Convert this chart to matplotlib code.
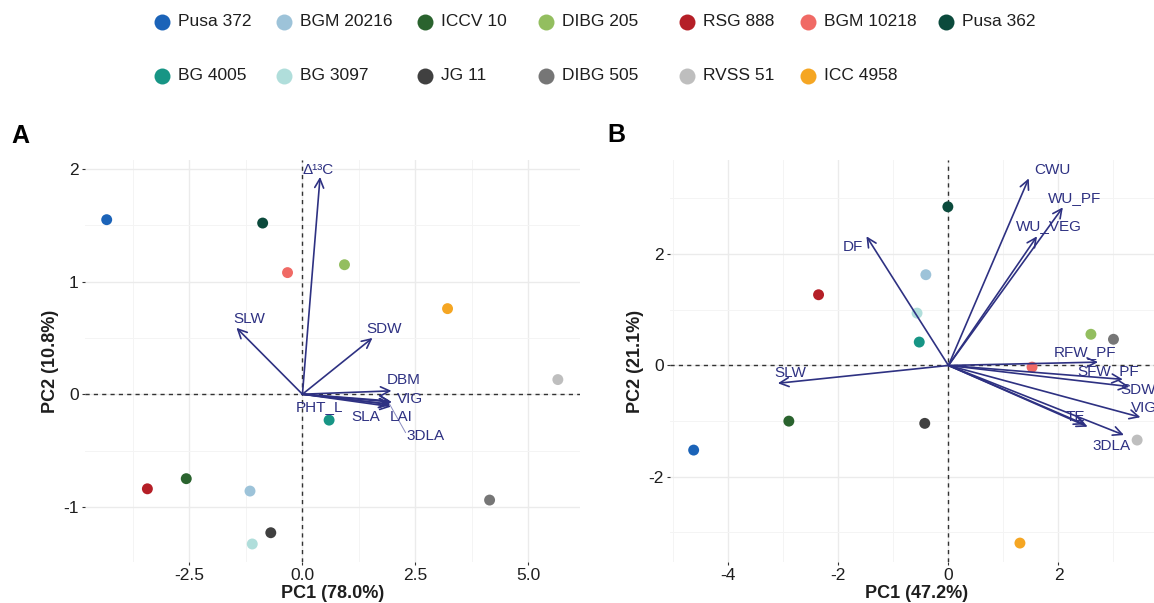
import matplotlib
matplotlib.use("Agg")
import matplotlib.pyplot as plt
from matplotlib.patches import FancyArrowPatch
from matplotlib.ticker import FixedLocator

plt.rcParams['font.family'] = ['Liberation Sans', 'DejaVu Sans']

# ---------------- data ----------------
genotypes = ["Pusa 372", "BGM 20216", "ICCV 10", "DIBG 205", "RSG 888", "BGM 10218", "Pusa 362",
             "BG 4005", "BG 3097", "JG 11", "DIBG 505", "RVSS 51", "ICC 4958"]
colors = ["#1B63B8", "#9DC3D9", "#2A632E", "#93BE5F", "#B51F27", "#F06A65", "#0B4A3C",
          "#179585", "#B0DEDB", "#404040", "#767676", "#BEBEBE", "#F5A623"]

# Panel A scores
a_pc1 = [-4.33, -1.16, -2.57, 0.93, -3.43, -0.33, -0.88, 0.59, -1.11, -0.70, 4.14, 5.65, 3.21]
a_pc2 = [1.55, -0.86, -0.75, 1.15, -0.84, 1.08, 1.52, -0.23, -1.33, -1.23, -0.94, 0.13, 0.76]
# Panel A loadings (arrows)
a_vars = ["Δ¹³C", "SLW", "SDW", "DBM", "VIG", "PHT_L", "SLA", "LAI", "3DLA"]
a_load1 = [0.39, -1.46, 1.55, 1.97, 1.98, 1.94, 1.95, 1.96, 1.93]
a_load2 = [1.93, 0.59, 0.50, 0.03, -0.07, -0.06, -0.09, -0.11, -0.09]
a_lab1 = [0.34, -1.18, 1.80, 2.23, 2.38, 0.38, 1.40, 2.19, 2.73]
a_lab2 = [1.99, 0.67, 0.58, 0.13, -0.04, -0.11, -0.20, -0.20, -0.37]

# Panel B scores
b_pc1 = [-4.63, -0.41, -2.90, 2.59, -2.36, 1.52, -0.01, -0.53, -0.57, -0.43, 3.00, 3.43, 1.30]
b_pc2 = [-1.52, 1.63, -1.00, 0.56, 1.27, -0.03, 2.85, 0.42, 0.94, -1.04, 0.47, -1.34, -3.19]
# Panel B loadings (arrows)
b_vars = ["CWU", "WU_PF", "WU_VEG", "DF", "SLW", "RFW_PF", "SFW_PF", "SDW", "VIG", "TE", "", "3DLA"]
b_load1 = [1.46, 2.08, 1.61, -1.49, -3.10, 2.72, 3.17, 3.29, 3.49, 2.53, 2.48, 3.19]
b_load2 = [3.36, 2.84, 2.32, 2.32, -0.32, 0.06, -0.25, -0.38, -0.93, -1.10, -1.06, -1.25]
b_lab1 = [1.89, 2.30, 1.82, -1.73, -2.88, 2.48, 2.90, 3.45, 3.55, 2.30, 2.30, 2.96]
b_lab2 = [3.51, 3.01, 2.50, 2.12, -0.14, 0.24, -0.10, -0.44, -0.77, -0.92, -0.92, -1.45]

# ---------------- figure ----------------
W, H = 1154, 603
fig = plt.figure(figsize=(W / 100, H / 100), dpi=100)

ARROW_C = "#2E3182"
TXT = "#1E1E1E"


def px_rect(l, r, t, b):
    return [l / W, 1 - b / H, (r - l) / W, (b - t) / H]


def style_axes(ax, xlim, ylim, xmaj, xmin, ymaj, ymin, xfmt):
    ax.set_xlim(*xlim)
    ax.set_ylim(*ylim)
    for s in ax.spines.values():
        s.set_visible(False)
    ax.xaxis.set_major_locator(FixedLocator(xmaj))
    ax.xaxis.set_minor_locator(FixedLocator(xmin))
    ax.yaxis.set_major_locator(FixedLocator(ymaj))
    ax.yaxis.set_minor_locator(FixedLocator(ymin))
    ax.set_xticklabels([xfmt(v) for v in xmaj])
    ax.set_yticklabels(["%g" % v for v in ymaj])
    ax.grid(True, which="major", color="#EBEBEB", lw=1.0, zorder=0)
    ax.grid(True, which="minor", color="#F4F4F4", lw=0.7, zorder=0)
    ax.tick_params(which="major", length=2.5, width=0.8, color="#333333",
                   labelsize=12.5, labelcolor=TXT, pad=2)
    ax.tick_params(which="minor", length=0)
    ax.set_axisbelow(True)
    ax.axhline(0, color="#333333", lw=1.0, ls=(0, (3, 3)), zorder=1)
    ax.axvline(0, color="#333333", lw=1.0, ls=(0, (3, 3)), zorder=1)


def draw_arrows(ax, l1, l2):
    for x, y in zip(l1, l2):
        ar = FancyArrowPatch((0, 0), (x, y), arrowstyle="->,head_length=0.65,head_width=0.32",
                             mutation_scale=10, color=ARROW_C, lw=1.2,
                             shrinkA=0, shrinkB=0, zorder=3)
        ax.add_patch(ar)


def draw_labels(ax, names, x, y):
    for n, lx, ly in zip(names, x, y):
        if n:
            ax.text(lx, ly, n, color=ARROW_C, fontsize=11, ha="center", va="center", zorder=4)


# Panel A
axA = fig.add_axes(px_rect(85, 580, 160, 562))
style_axes(axA, (-4.81, 6.14), (-1.49, 2.08),
           [-2.5, 0.0, 2.5, 5.0], [-3.75, -1.25, 1.25, 3.75],
           [-1, 0, 1, 2], [-0.5, 0.5, 1.5], lambda v: "%.1f" % v)
axA.scatter(a_pc1, a_pc2, c=colors, s=62, zorder=2, linewidths=0)
draw_arrows(axA, a_load1, a_load2)
# repel connector for 3DLA label
axA.plot([a_load1[-1], a_lab1[-1] - 0.45], [a_load2[-1], a_lab2[-1] + 0.03],
         color="#8A8CC0", lw=0.7, zorder=3)
draw_labels(axA, a_vars, a_lab1, a_lab2)
axA.set_xlabel("PC1 (78.0%)", fontsize=13, fontweight="bold", color=TXT, labelpad=1)
axA.set_ylabel("PC2 (10.8%)", fontsize=13, fontweight="bold", color=TXT, labelpad=3)

# Panel B
axB = fig.add_axes(px_rect(670, 1163, 160, 562))
style_axes(axB, (-5.06, 3.90), (-3.53, 3.69),
           [-4, -2, 0, 2], [-5, -3, -1, 1, 3],
           [-2, 0, 2], [-3, -1, 1, 3], lambda v: "%d" % v)
axB.scatter(b_pc1, b_pc2, c=colors, s=62, zorder=2, linewidths=0)
draw_arrows(axB, b_load1, b_load2)
draw_labels(axB, b_vars, b_lab1, b_lab2)
axB.set_xlabel("PC1 (47.2%)", fontsize=13, fontweight="bold", color=TXT, labelpad=1)
axB.set_ylabel("PC2 (21.1%)", fontsize=13, fontweight="bold", color=TXT, labelpad=3)

# panel tags
fig.text(20 / W, 1 - 136 / H, "A", fontsize=18, fontweight="bold", ha="center", va="center")
fig.text(616 / W, 1 - 135 / H, "B", fontsize=18, fontweight="bold", ha="center", va="center")

# legend: 7 columns x 2 rows, laid out in pixel space on an overlay axes
leg_ax = fig.add_axes([0, 0, 1, 1], zorder=10)
leg_ax.set_xlim(0, W)
leg_ax.set_ylim(H, 0)
leg_ax.axis("off")
col_x = [162, 284, 425, 546, 687, 808, 946]
row_y = [22, 76]
for i, (name, col) in enumerate(zip(genotypes, colors)):
    r, c = divmod(i, 7)
    leg_ax.plot(col_x[c], row_y[r], marker="o", ls="", color=col,
                markersize=11.5, markeredgewidth=0)
    leg_ax.text(col_x[c] + 16, row_y[r], name, fontsize=12.5, color=TXT,
                ha="left", va="center")

fig.savefig("out.png", dpi=100)
